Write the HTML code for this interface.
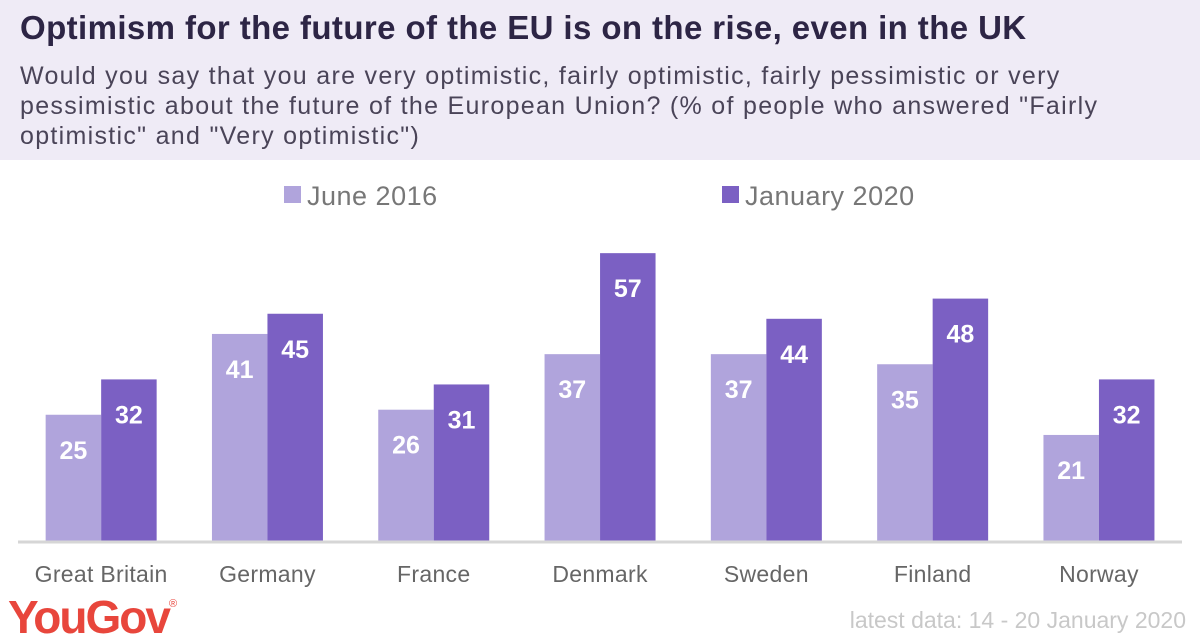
<!DOCTYPE html>
<html><head><meta charset="utf-8"><style>
body{margin:0;width:1200px;height:644px;overflow:hidden;background:#fff;font-family:"Liberation Sans",sans-serif;position:relative}
#hdr{position:absolute;left:0;top:0;width:1200px;height:160px;background:#efebf6}
#title{position:absolute;left:20px;top:9px;font-size:33px;font-weight:bold;color:#2d2545;white-space:nowrap;letter-spacing:0.4px}
#sub{position:absolute;left:20px;top:61px;width:1100px;font-size:25px;line-height:30px;color:#4a4458;letter-spacing:1.3px}
#logo{position:absolute;left:8px;top:590px;font-size:46px;font-weight:bold;color:#e8463c;letter-spacing:-2px}
#logo sup{font-size:11px;font-weight:normal;vertical-align:top;position:relative;top:8px}
#src{position:absolute;right:14px;top:607px;font-size:23px;color:#c8c8c8}
</style></head><body>
<div id="hdr"></div>
<div id="title">Optimism for the future of the EU is on the rise, even in the UK</div>
<div id="sub">Would you say that you are very optimistic, fairly optimistic, fairly pessimistic or very pessimistic about the future of the European Union? (% of people who answered "Fairly optimistic" and "Very optimistic")</div>
<svg id="chart" width="1200" height="644" style="position:absolute;left:0;top:0"></svg>
<div id="logo">YouGov<sup>®</sup></div>
<div id="src">latest data: 14 - 20 January 2020</div>
<script>
const categories=["Great Britain","Germany","France","Denmark","Sweden","Finland","Norway"];
const june2016=[25,41,26,37,37,35,21];
const jan2020=[32,45,31,57,44,48,32];
const seriesNames=["June 2016","January 2020"];
const colors=["#b0a4dc","#7b60c3"];
const svg=document.getElementById('chart');
const NS="http://www.w3.org/2000/svg";
const base=541,scale=5.05,x0=18,step=166.3,bw=55.5;
function y(v){return base-v*scale;}
function cx(i){return x0+step*(i+0.5);}
function mk(t,a){const e=document.createElementNS(NS,t);for(const k in a)e.setAttribute(k,a[k]);svg.appendChild(e);return e;}
[june2016,jan2020].forEach((s,si)=>{
 s.forEach((v,i)=>{
  const x=cx(i)-bw+si*bw;
  const r=mk('rect',{x:x,y:y(v),width:bw,height:v*scale,fill:colors[si]});
  
  
  const t=mk('text',{x:x+bw/2,y:y(v)+44,'text-anchor':'middle','font-size':25,'font-weight':'bold',fill:'#fff'});
  t.textContent=v;
  
  
 });
});
categories.forEach((c,i)=>{
 const t=mk('text',{x:cx(i),y:582,'text-anchor':'middle','font-size':23,fill:'#666','letter-spacing':0.3});
 t.textContent=c;
 
 
});
const ax=mk('line',{x1:18,x2:1182,y1:542,y2:542,stroke:'#d6d6d6','stroke-width':3});


const lx=[284,722];
seriesNames.forEach((n,i)=>{
 const r=mk('rect',{x:lx[i],y:186,width:17,height:17,fill:colors[i]});
 
 
 const t=mk('text',{x:lx[i]+23,y:205,'font-size':27,fill:'#777','letter-spacing':0.5});
 t.textContent=n;
 
 
});
</script>
</body></html>
